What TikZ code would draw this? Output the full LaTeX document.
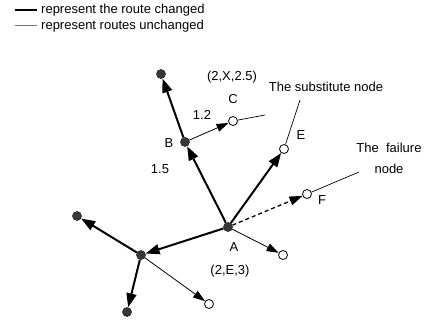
\documentclass[tikz,border=0pt]{standalone}
\usepackage{fontspec}
\setmainfont{Liberation Sans}
\usetikzlibrary{arrows.meta}
\begin{document}
\begin{tikzpicture}[x=1pt,y=-1pt,
 fnode/.style={circle,fill=black!78,draw=black!85,line width=0.6pt,inner sep=0pt,minimum size=9pt},
 onode/.style={circle,fill=white,draw=black,line width=0.8pt,inner sep=0pt,minimum size=9pt},
 chg/.style={line width=2pt,-{Triangle[length=14pt,width=10pt]}},
 unchg/.style={line width=0.8pt,-{Triangle[length=12pt,width=8pt]}},
 ptr/.style={line width=0.7pt},
 lbl/.style={font=\fontsize{13}{21}\selectfont,inner sep=0pt}]
\useasboundingbox (0,0) rectangle (427,328);
% legend
\coordinate (l1a) at (15,10); \coordinate (l1b) at (37,10);
\coordinate (l2a) at (15,26); \coordinate (l2b) at (37,26);
\draw[line width=2.5pt] (l1a) -- (l1b);
\draw[line width=1pt,black!55] (l2a) -- (l2b);
\node[lbl,anchor=west] (t1) at (41,10) {represent the route changed};
\node[lbl,anchor=west] (t2) at (41,26) {represent routes unchanged};
% nodes
\node[fnode] (A) at (228,227) {};
\node[fnode] (B) at (185,142) {};
\node[fnode] (T) at (161,74) {};
\node[onode] (C) at (233,121) {};
\node[onode] (E) at (284,149) {};
\node[onode] (F) at (307,194) {};
\node[onode] (R) at (283,255) {};
\node[fnode] (L) at (141,255) {};
\node[fnode] (FL) at (77,216) {};
\node[fnode] (BT) at (127,312) {};
\node[onode] (LO) at (209,304) {};
\coordinate (Cend) at (265,115);
\coordinate (Eend) at (300,100);
\coordinate (Fend) at (359,172);
% connectors
\draw[chg] (A) -- (B);
\draw[chg] (B) -- (T);
\draw[chg] (A) -- (E);
\draw[chg] (A) -- (L);
\draw[chg] (L) -- (FL);
\draw[chg] (L) -- (BT);
\draw[unchg] (B) -- (C);
\draw[unchg] (A) -- (R);
\draw[unchg] (L) -- (LO);
\draw[line width=1.3pt,dash pattern=on 4pt off 3pt,-{Triangle[length=13pt,width=9pt]}] (A) -- (F);
\draw[ptr] (C) -- (Cend);
\draw[ptr] (E) -- (Eend);
\draw[ptr] (F) -- (Fend);
% labels
\node[lbl] (lX) at (232,77) {(2,X,2.5)};
\node[lbl] (lC) at (233,99) {C};
\node[lbl] (l12) at (202,115) {1.2};
\node[lbl] (lB) at (169,143) {B};
\node[lbl] (lS) at (326,87) {The substitute node};
\node[lbl] (lE) at (301,135) {E};
\node[lbl,align=center] (lFail) at (389,158) {The\ \ failure\\node};
\node[lbl] (lF) at (322,200) {F};
\node[lbl] (l15) at (160,169) {1.5};
\node[lbl] (lA) at (234,247) {A};
\node[lbl] (lA2) at (230,271) {(2,E,3)};
\end{tikzpicture}
\end{document}
